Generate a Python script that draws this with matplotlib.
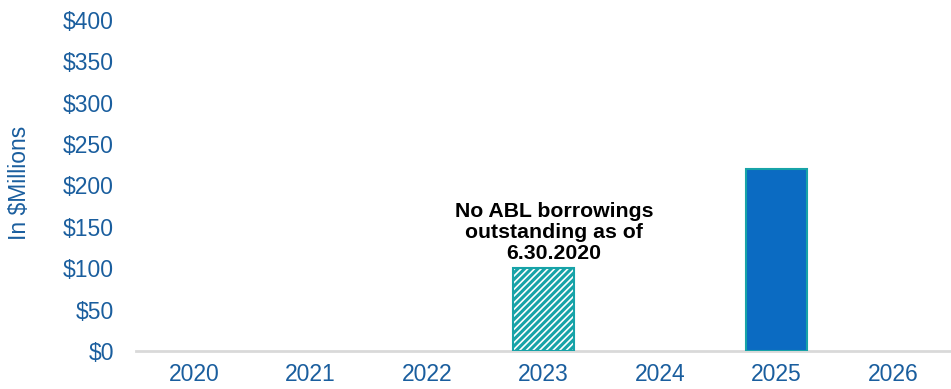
import matplotlib
matplotlib.use("Agg")
import matplotlib.pyplot as plt

years = ["2020", "2021", "2022", "2023", "2024", "2025", "2026"]
abl_values = [0, 0, 0, 100, 0, 0, 0]
notes_values = [0, 0, 0, 0, 0, 220, 0]
yticks = [0, 50, 100, 150, 200, 250, 300, 350, 400]
ytick_labels = ["$0", "$50", "$100", "$150", "$200", "$250", "$300", "$350", "$400"]
annotation = "No ABL borrowings\noutstanding as of\n6.30.2020"

blue_text = "#1A5E9E"
teal = "#17A3A8"
bar_blue = "#0B6BC2"

plt.rcParams["font.family"] = ["Liberation Sans", "DejaVu Sans"]
plt.rcParams["hatch.linewidth"] = 2.2

fig = plt.figure(figsize=(9.51, 3.89), dpi=100)
ax = fig.add_axes([0.143, 0.0977, 0.857, 0.851])

x = list(range(len(years)))
w = 0.52
abl_x = [i for i, v in zip(x, abl_values) if v > 0]
abl_v = [v for v in abl_values if v > 0]
n_x = [i for i, v in zip(x, notes_values) if v > 0]
n_v = [v for v in notes_values if v > 0]

ax.bar(abl_x, abl_v, width=w, color="white", edgecolor=teal, hatch="/////", linewidth=1.5, zorder=2)
ax.bar(n_x, n_v, width=w, color=bar_blue, edgecolor=teal, linewidth=1.5, zorder=2)

for i, v in zip(abl_x, abl_v):
    ax.text(i + 0.09, v + 6, annotation, ha="center", va="bottom", fontsize=15.3, fontweight="bold",
            color="black", linespacing=1.15)

ax.set_xlim(-0.5, len(years) - 0.5)
ax.set_ylim(0, 400)
ax.set_yticks(yticks)
ax.set_yticklabels(ytick_labels)
ax.set_xticks(x)
ax.set_xticklabels(years)
ax.tick_params(axis="both", length=0, labelsize=16.5, labelcolor=blue_text)
ax.tick_params(axis="y", pad=16)
ax.tick_params(axis="x", pad=9)

for s in ["top", "right", "left"]:
    ax.spines[s].set_visible(False)
ax.spines["bottom"].set_color("#D9D9D9")
ax.spines["bottom"].set_linewidth(2)
ax.spines["bottom"].set_zorder(1)

fig.text(0.021, 0.531, "In $Millions", rotation=90, ha="center", va="center",
         fontsize=16.5, color=blue_text)

fig.savefig("out.png", dpi=100)
